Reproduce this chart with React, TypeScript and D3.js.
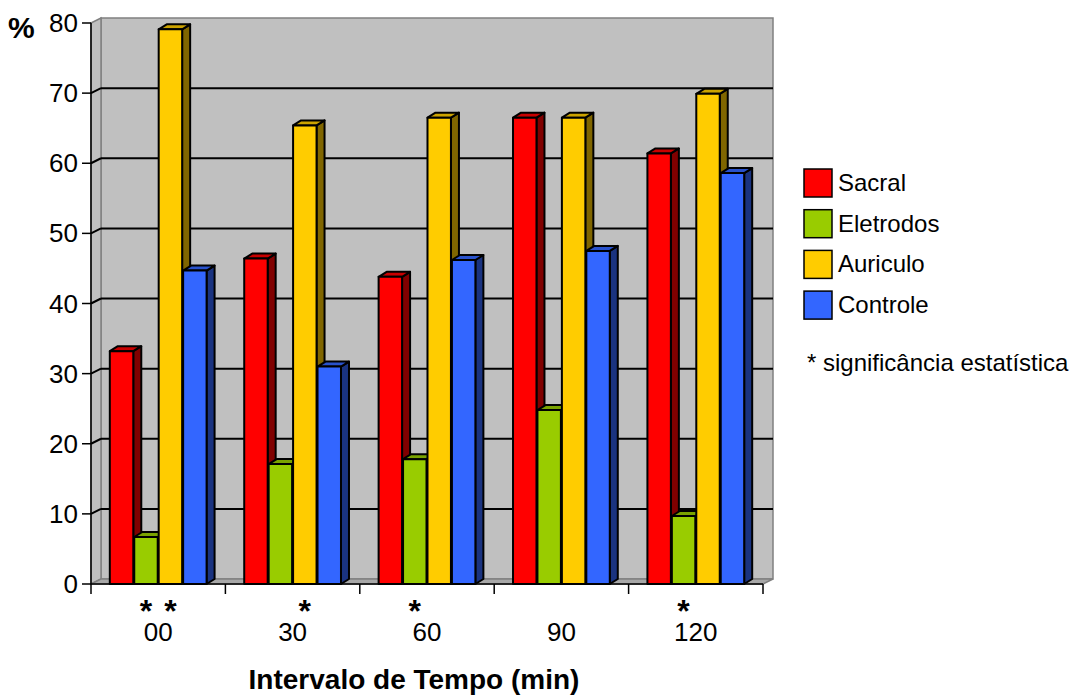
import React from "react";
import * as d3 from "d3";

const categories = ["00", "30", "60", "90", "120"];
const seriesNames = ["Sacral", "Eletrodos", "Auriculo", "Controle"];
const sacral = [33.2, 46.4, 43.8, 66.5, 61.4];
const eletrodos = [6.7, 17.1, 17.8, 24.8, 9.7];
const auriculo = [79.1, 65.4, 66.5, 66.5, 69.9];
const controle = [44.7, 31.0, 46.2, 47.5, 58.6];
const yTicks = [0, 10, 20, 30, 40, 50, 60, 70, 80];
// significance markers: [category index, series index]
const significance: [number, number][] = [
  [0, 1],
  [0, 2],
  [1, 2],
  [2, 1],
  [4, 1],
];
const xTitle = "Intervalo de Tempo (min)";
const yTitle = "%";
const noteText = "* significância estatística";

const seriesValues = [sacral, eletrodos, auriculo, controle];
const frontColors = ["#FF0000", "#99CC00", "#FFCC00", "#3366FF"];
const topColors = ["#C80000", "#7AA300", "#CCA300", "#2952CC"];
const sideColors = ["#800000", "#4D6600", "#806600", "#1A3380"];

const FONT = "'Liberation Sans', Arial, Helvetica, sans-serif";

export default function App() {
  const W = 1073;
  const H = 696;
  const left = 91;
  const right = 763;
  const wdx = 10;
  const wdy = -5;
  const bdx = 8;
  const bdy = -5;

  const x = d3.scaleBand<string>().domain(categories).range([left, right]).padding(0);
  const inner = d3
    .scaleBand<string>()
    .domain(seriesNames)
    .range([0, x.bandwidth()])
    .paddingInner(0.04)
    .paddingOuter(0.77);
  const y = d3.scaleLinear().domain([0, 80]).range([584, 23]);
  const y0 = y(0);
  const yTop = y(80);

  const bars: React.ReactNode[] = [];
  categories.forEach((c, ci) => {
    seriesNames.forEach((s, si) => {
      const v = seriesValues[si][ci];
      const bx = (x(c) as number) + (inner(s) as number);
      const w = inner.bandwidth();
      const yt = y(v);
      const topPts = [
        [bx, yt],
        [bx + bdx, yt + bdy],
        [bx + w + bdx, yt + bdy],
        [bx + w, yt],
      ];
      const sidePts = [
        [bx + w, yt],
        [bx + w + bdx, yt + bdy],
        [bx + w + bdx, y0 + bdy],
        [bx + w, y0],
      ];
      bars.push(
        <g key={`${c}-${s}`} stroke="#000" strokeWidth={2} strokeLinejoin="round">
          <polygon points={sidePts.map((p) => p.join(",")).join(" ")} fill={sideColors[si]} />
          <polygon points={topPts.map((p) => p.join(",")).join(" ")} fill={topColors[si]} />
          <rect x={bx} y={yt} width={w} height={y0 - yt} fill={frontColors[si]} />
        </g>
      );
    });
  });

  const gridVals = yTicks.filter((t) => t > 0 && t < 80);
  const boundaries = [...categories.map((c) => x(c) as number), right];

  return (
    <svg
      width={W}
      height={H}
      style={{ position: "absolute", left: 0, top: 0, display: "block", background: "#fff" }}
      fontFamily={FONT}
    >
      {/* back wall */}
      <rect
        x={left + wdx}
        y={yTop + wdy}
        width={right - left}
        height={y0 - yTop}
        fill="#C0C0C0"
        stroke="#808080"
        strokeWidth={1.5}
      />
      {/* side wall */}
      <polygon
        points={`${left},${yTop} ${left + wdx},${yTop + wdy} ${left + wdx},${y0 + wdy} ${left},${y0}`}
        fill="#C0C0C0"
        stroke="#808080"
        strokeWidth={1.5}
      />
      {/* floor */}
      <polygon
        points={`${left},${y0} ${left + wdx},${y0 + wdy} ${right + wdx},${y0 + wdy} ${right},${y0}`}
        fill="#A8A8A8"
        stroke="#808080"
        strokeWidth={1.5}
      />
      {/* gridlines */}
      {gridVals.map((t) => (
        <g key={t} stroke="#000" strokeWidth={2}>
          <line x1={left + wdx} x2={right + wdx} y1={y(t) + wdy} y2={y(t) + wdy} />
          <line x1={left} x2={left + wdx} y1={y(t)} y2={y(t) + wdy} />
        </g>
      ))}
      {bars}
      {/* y axis */}
      <line x1={left} x2={left} y1={yTop} y2={y0} stroke="#000" strokeWidth={1.5} />
      {yTicks.map((t) => (
        <g key={t}>
          <line x1={left - 9} x2={left} y1={y(t)} y2={y(t)} stroke="#000" strokeWidth={1.5} />
          <text x={left - 13} y={y(t) + 9} fontSize={26} textAnchor="end" fill="#000">
            {t}
          </text>
        </g>
      ))}
      <text x={8} y={38} fontSize={30} fontWeight="bold" fill="#000">
        {yTitle}
      </text>
      {/* x axis */}
      <line x1={left} x2={right} y1={y0} y2={y0} stroke="#000" strokeWidth={1.5} />
      {boundaries.map((bx, i) => (
        <line key={i} x1={bx} x2={bx} y1={y0} y2={y0 + 10} stroke="#000" strokeWidth={1.5} />
      ))}
      {categories.map((c) => (
        <text
          key={c}
          x={(x(c) as number) + x.bandwidth() / 2}
          y={641}
          fontSize={26}
          textAnchor="middle"
          fill="#000"
        >
          {c}
        </text>
      ))}
      {significance.map(([ci, si], i) => (
        <text
          key={i}
          x={(x(categories[ci]) as number) + (inner(seriesNames[si]) as number) + inner.bandwidth() / 2}
          y={622}
          fontSize={32}
          fontWeight="bold"
          textAnchor="middle"
          fill="#000"
        >
          *
        </text>
      ))}
      <text x={414} y={689} fontSize={28} fontWeight="bold" textAnchor="middle" fill="#000">
        {xTitle}
      </text>
      {/* legend */}
      {seriesNames.map((s, i) => {
        const ly = 169 + i * 40.7;
        return (
          <g key={s}>
            <rect x={804} y={ly} width={28} height={28} fill={frontColors[i]} stroke="#000" strokeWidth={1.5} />
            <text x={838} y={ly + 22} fontSize={24} fill="#000">
              {s}
            </text>
          </g>
        );
      })}
      <text x={807} y={371} fontSize={24} fill="#000">
        {noteText}
      </text>
    </svg>
  );
}
